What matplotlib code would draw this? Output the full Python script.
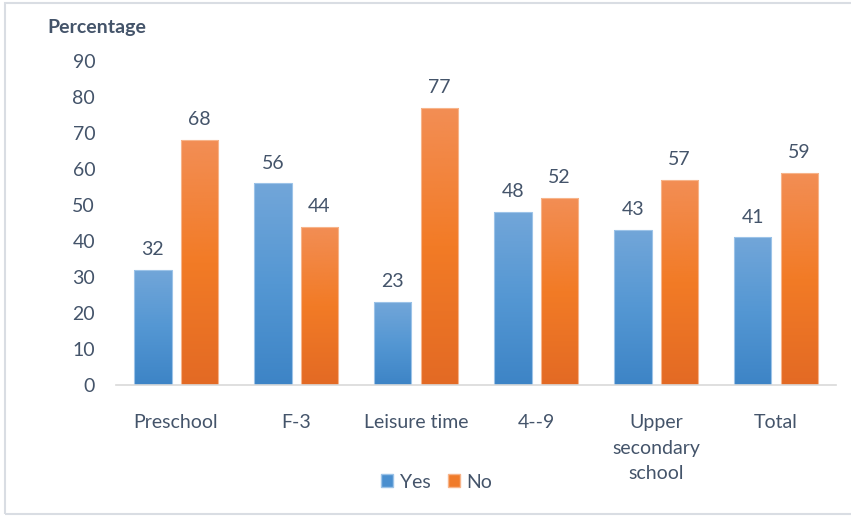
import numpy as np
import matplotlib.pyplot as plt
from matplotlib.colors import LinearSegmentedColormap
from matplotlib.patches import Rectangle, Patch

categories = ['Preschool', 'F-3', 'Leisure time', '4--9', 'Upper\nsecondary\nschool', 'Total']
yes_vals = [32, 56, 23, 48, 43, 41]
no_vals = [68, 44, 77, 52, 57, 59]
yticks = [0, 10, 20, 30, 40, 50, 60, 70, 80, 90]

plt.rcParams['font.family'] = ['Lato', 'DejaVu Sans']
txt = '#44546a'
fs = 14

fig = plt.figure(figsize=(8.51, 5.16), dpi=100)
ax = fig.add_axes([116 / 851, 1 - 385 / 516, 720 / 851, 324 / 516])

x = np.arange(len(categories))
w = 0.31
gap = 0.075

blue_cmap = LinearSegmentedColormap.from_list('b', ['#3d84c6', '#5497d3', '#72a6d9'])
orange_cmap = LinearSegmentedColormap.from_list('o', ['#e36a24', '#f27b26', '#f28e55'])
grad = np.linspace(0, 1, 256).reshape(-1, 1)

def gradient_bars(xs, vals, cmap, edge):
    bars = ax.bar(xs, vals, width=w, color='none', edgecolor=edge, linewidth=0.8, zorder=3)
    for b, v in zip(bars, vals):
        x0 = b.get_x()
        im = ax.imshow(grad, cmap=cmap, origin='lower', aspect='auto',
                       extent=[x0, x0 + w, 0, v], zorder=2)
        im.set_clip_path(b)
        ax.text(x0 + w / 2, v + 3.3, str(v), ha='center', va='bottom',
                fontsize=fs, color=txt)
    return bars

gradient_bars(x - w / 2 - gap / 2, yes_vals, blue_cmap, '#9cc3e8')
gradient_bars(x + w / 2 + gap / 2, no_vals, orange_cmap, '#f7b48a')

ax.set_xlim(-0.5, len(categories) - 0.5)
ax.set_ylim(0, 90)
ax.set_yticks(yticks)
ax.set_xticks(x)
ax.set_xticklabels(categories, linespacing=1.6, va='top')
ax.tick_params(axis='both', length=0, labelsize=fs, labelcolor=txt)
ax.tick_params(axis='x', pad=21)
ax.tick_params(axis='y', pad=15)
for s in ['top', 'right', 'left']:
    ax.spines[s].set_visible(False)
ax.spines['bottom'].set_color('#d9d9d9')
ax.spines['bottom'].set_linewidth(1.2)
ax.spines['bottom'].set_zorder(4)

fig.text(47 / 851, 1 - 28 / 516, 'Percentage', fontsize=fs, fontweight='bold',
         color=txt, ha='left', va='center')

handles = [Patch(facecolor='#4a8fcf', edgecolor='#9cc3e8', label='Yes'),
           Patch(facecolor='#f07b2a', edgecolor='#f7b48a', label='No')]
fig.legend(handles=handles, loc='center', bbox_to_anchor=(437 / 851, 1 - 482 / 516),
           ncol=2, frameon=False, fontsize=fs, labelcolor=txt,
           handlelength=0.6, handleheight=0.6, handletextpad=0.35, columnspacing=0.9)

fig.patches.append(Rectangle((5 / 851, 2 / 516), 1.2, 1 - 5 / 516,
                             transform=fig.transFigure, fill=False,
                             edgecolor='#d9dde3', linewidth=1.5))

fig.savefig('out.png', dpi=100)
